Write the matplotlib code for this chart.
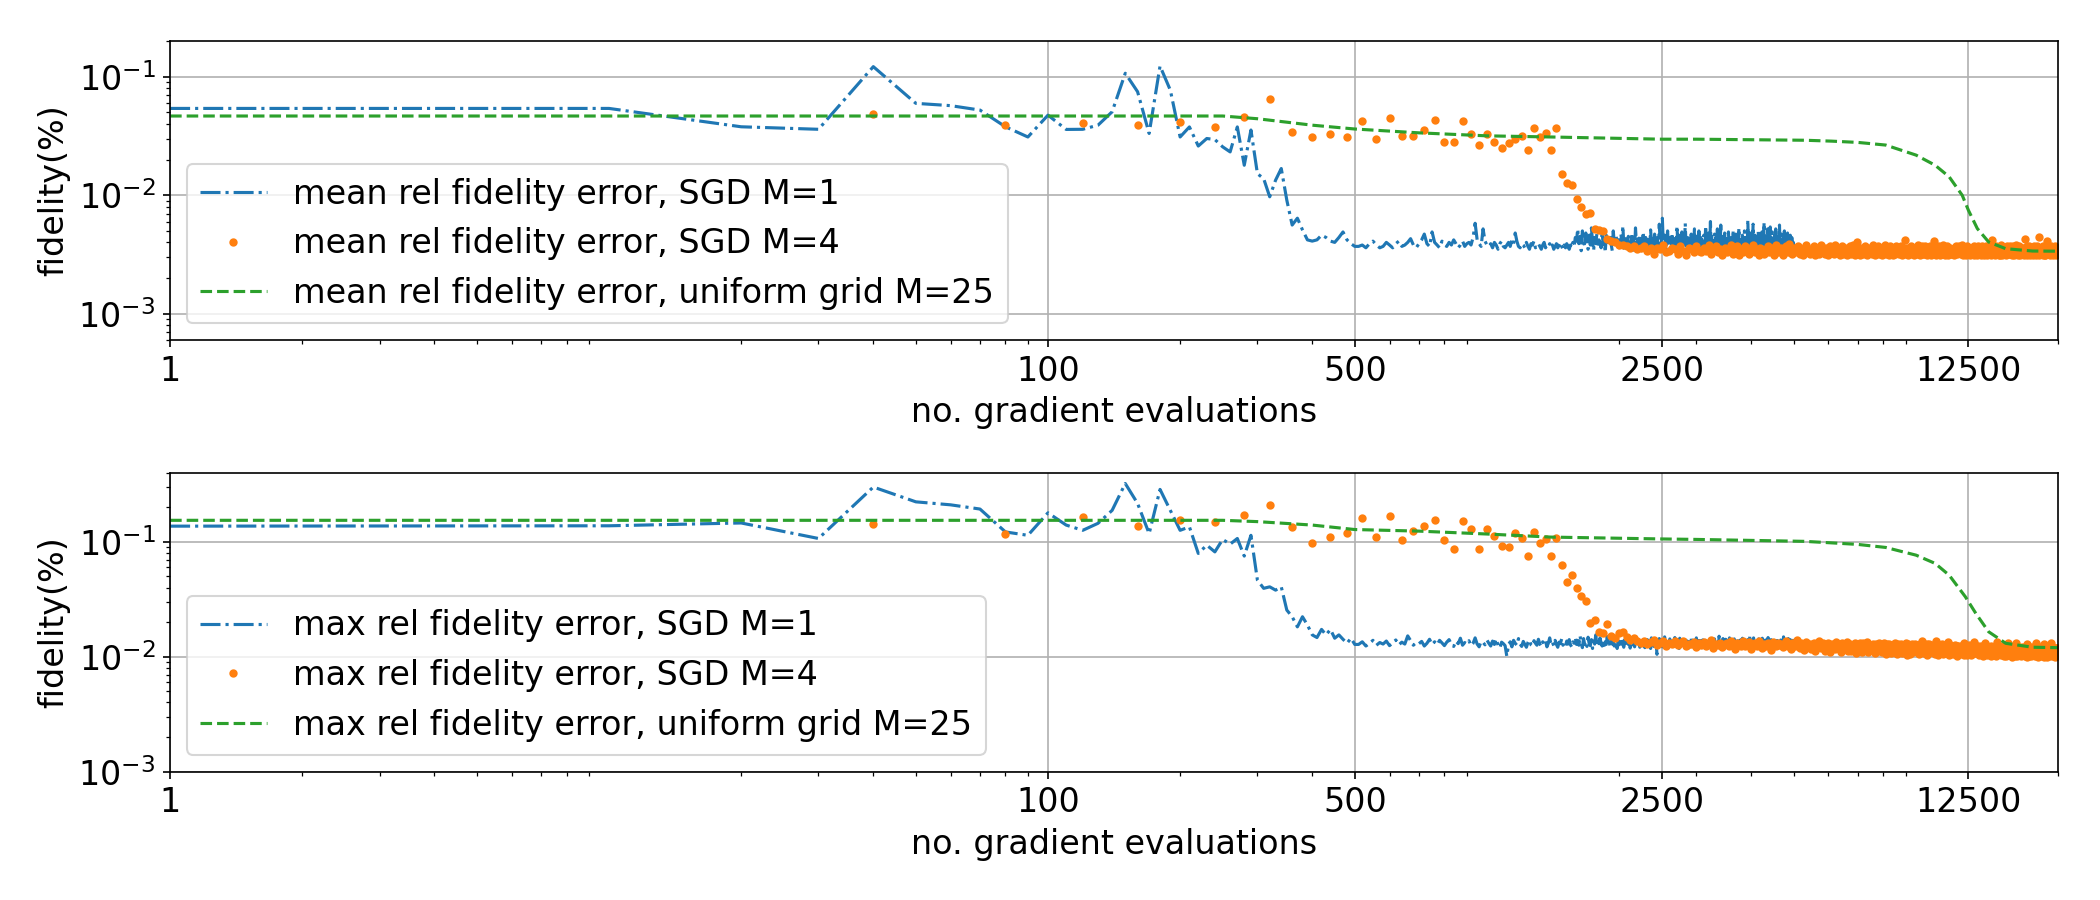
import numpy as np
import matplotlib
matplotlib.use("Agg")
import matplotlib.pyplot as plt
from matplotlib.ticker import NullFormatter

plt.rcParams['font.family'] = ['DejaVu Sans']
plt.rcParams['font.size'] = 16

# ---------------- data ----------------
x_ticks = [1, 100, 500, 2500, 12500]
x_tick_labels = ['1', '100', '500', '2500', '12500']

# SGD M=1 : evaluations 1, 10, 20, ..., 5000
mean_m1_early = [0.054, 0.054, 0.0378, 0.036, 0.1216, 0.0596, 0.057, 0.0523, 0.0378, 0.031,
                 0.0474, 0.0359, 0.036, 0.039, 0.0506, 0.107, 0.0747, 0.0332, 0.123, 0.077,
                 0.031, 0.0377, 0.026, 0.0301, 0.0295, 0.0256, 0.0232, 0.0377, 0.0179, 0.0355,
                 0.0152, 0.0138, 0.0097, 0.0134, 0.0168, 0.0091, 0.0056, 0.0064, 0.0051, 0.0042,
                 0.0041, 0.0042, 0.0046, 0.0044, 0.0041, 0.0040, 0.0044, 0.0049, 0.0042, 0.0039,
                 0.0037]
# x = 510 ... 5000, units of 1e-4
mean_m1_late = [
    37, 38, 36, 39, 41, 38, 36, 37, 40, 38,
    36, 39, 41, 37, 38, 40, 43, 38, 36, 39,
    42, 47, 39, 37, 49, 40, 38, 36, 41, 38,
    37, 40, 38, 42, 39, 36, 38, 41, 37, 39,
    40, 38, 44, 58, 42, 39, 37, 52, 41, 38,
    37, 39, 36, 40, 38, 35, 39, 41, 37, 36,
    38, 40, 37, 42, 39, 48, 41, 37, 36, 39,
    38, 36, 40, 37, 35, 39, 38, 41, 36, 37,
    39, 37, 35, 38, 40, 36, 38, 37, 39, 36,
    38, 35, 37, 39, 36, 38, 40, 37, 35, 38,
    36, 39, 37, 35, 38, 36, 40, 37, 44, 41,
    52, 39, 45, 34, 50, 42, 37, 48, 40, 35,
    46, 38, 53, 41, 34, 44, 39, 47, 37, 42,
    40, 36, 49, 38, 43, 33, 46, 39, 41, 37,
    44, 38, 34, 50, 40, 37, 45, 39, 42, 36,
    41, 47, 38, 55, 39, 34, 43, 40, 37, 45,
    38, 42, 36, 48, 39, 44, 33, 53, 40, 38,
    43, 37, 46, 39, 34, 41, 49, 38, 36, 44,
    39, 45, 37, 42, 38, 51, 40, 34, 43, 38,
    47, 39, 36, 44, 40, 38, 57, 41, 33, 45,
    64, 42, 38, 46, 39, 34, 43, 50, 38, 41,
    37, 44, 39, 48, 34, 42, 38, 45, 40, 37,
    55, 41, 38, 46, 39, 43, 33, 49, 40, 36,
    42, 38, 58, 40, 37, 45, 39, 43, 34, 41,
    38, 47, 40, 36, 44, 39, 52, 38, 42, 33,
    45, 39, 34, 50, 41, 38, 44, 37, 42, 39,
    37, 46, 40, 38, 55, 39, 43, 34, 48, 40,
    41, 38, 60, 39, 45, 37, 43, 40, 33, 47,
    39, 44, 36, 41, 52, 38, 42, 34, 46, 39,
    56, 40, 38, 45, 37, 42, 39, 48, 34, 41,
    38, 43, 40, 37, 49, 39, 44, 33, 42, 38,
    45, 39, 37, 51, 40, 38, 43, 34, 47, 39,
    41, 37, 44, 39, 53, 38, 42, 36, 45, 40,
    38, 46, 39, 42, 34, 50, 40, 36, 44, 39,
    43, 38, 62, 40, 37, 45, 39, 48, 33, 41,
    37, 44, 40, 57, 39, 42, 34, 46, 38, 43,
    39, 45, 37, 41, 50, 38, 43, 34, 47, 40,
    42, 38, 49, 39, 44, 37, 41, 59, 40, 33,
    45, 39, 36, 43, 40, 52, 38, 42, 34, 46,
    39, 54, 41, 38, 44, 37, 49, 40, 43, 34,
    41, 36, 46, 39, 52, 38, 43, 33, 45, 40,
    38, 44, 39, 56, 41, 37, 43, 34, 47, 38,
    42, 37, 45, 40, 38, 50, 39, 44, 34, 41,
    39, 43, 37, 48, 40, 33, 45, 37, 42, 39,
    46, 38, 41, 37, 44, 39, 42, 34, 40, 37]

max_m1_early = [0.137, 0.138, 0.146, 0.107, 0.30, 0.223, 0.21, 0.193, 0.122, 0.114,
                0.179, 0.140, 0.126, 0.145, 0.188, 0.322, 0.216, 0.118, 0.286, 0.188,
                0.126, 0.135, 0.0793, 0.0936, 0.0818, 0.105, 0.0955, 0.107, 0.0752, 0.114,
                0.0465, 0.0394, 0.0406, 0.038, 0.0406, 0.0255, 0.0223, 0.0182, 0.0223, 0.0189,
                0.0155, 0.0147, 0.0173, 0.0155, 0.0173, 0.0145, 0.0155, 0.0142, 0.0131, 0.0145,
                0.0128]
# x = 510 ... 5000, units of 1e-4
max_m1_late = [
    128, 135, 124, 131, 139, 126, 133, 129, 137, 125,
    132, 140, 127, 134, 129, 152, 138, 126, 133, 130,
    136, 124, 131, 142, 128, 135, 127, 139, 132, 125,
    134, 141, 128, 123, 137, 130, 145, 126, 133, 129,
    138, 125, 131, 146, 129, 122, 136, 133, 127, 140,
    131, 124, 137, 128, 143, 126, 119, 134, 130, 125,
    101, 128, 135, 122, 139, 131, 126, 144, 129, 123,
    136, 128, 121, 133, 140, 127, 124, 138, 131, 126,
    142, 129, 123, 135, 128, 137, 122, 131, 146, 127,
    133, 125, 139, 128, 121, 134, 130, 143, 126, 132,
    124, 137, 129, 141, 127, 122, 135, 131, 145, 128,
    139, 126, 152, 131, 120, 144, 128, 136, 123, 148,
    130, 125, 141, 118, 137, 129, 155, 127, 134, 122,
    146, 131, 124, 139, 119, 135, 128, 150, 126, 133,
    121, 142, 129, 136, 124, 147, 130, 118, 138, 127,
    135, 123, 144, 129, 121, 140, 132, 126, 153, 128,
    137, 119, 131, 145, 127, 134, 122, 141, 129, 125,
    148, 130, 121, 138, 126, 143, 128, 135, 120, 132,
    127, 141, 124, 136, 130, 118, 146, 129, 134, 123,
    139, 126, 132, 105, 137, 128, 144, 125, 131, 138,
    122, 135, 129, 149, 127, 133, 120, 140, 130, 126,
    143, 128, 134, 121, 138, 131, 125, 147, 129, 136,
    124, 139, 130, 118, 145, 127, 133, 122, 141, 128,
    135, 126, 150, 129, 123, 137, 131, 119, 142, 130,
    127, 144, 125, 133, 139, 121, 136, 128, 132, 146,
    129, 122, 138, 131, 126, 143, 127, 135, 120, 140,
    133, 128, 145, 124, 137, 130, 118, 141, 129, 134,
    126, 139, 131, 122, 147, 128, 136, 125, 132, 143,
    121, 134, 129, 140, 127, 135, 124, 151, 130, 126,
    138, 123, 133, 129, 144, 120, 137, 131, 126, 142,
    130, 127, 139, 124, 135, 128, 146, 122, 134, 131,
    125, 141, 128, 136, 119, 143, 130, 127, 138, 124,
    137, 129, 133, 126, 148, 131, 122, 140, 128, 135,
    123, 145, 130, 127, 136, 121, 139, 132, 125, 144,
    131, 126, 141, 128, 134, 124, 150, 129, 137, 122,
    140, 127, 133, 119, 146, 130, 125, 138, 131, 128,
    134, 122, 139, 131, 126, 143, 128, 136, 120, 141,
    129, 137, 124, 145, 130, 127, 135, 122, 139, 132,
    126, 140, 131, 128, 137, 123, 147, 129, 134, 125,
    138, 130, 122, 141, 127, 135, 131, 126, 144, 128,
    132, 125, 139, 129, 136, 121, 142, 130, 127, 137,
    124, 143, 128, 135, 131, 126, 140, 122, 138, 129,
    136, 127, 133, 149, 125, 138, 130, 123, 141, 128,
    130, 139, 126, 134, 121, 144, 129, 135, 127, 132,
    141, 128, 135, 124, 137, 130, 126, 139, 131, 127]

# SGD M=4 : evaluations 40, 80, ..., 20000
mean_m4_early = [0.0481, 0.0391, 0.0403, 0.0391, 0.0417, 0.0373, 0.0454, 0.0645, 0.0343, 0.0311,
                 0.0328, 0.0311, 0.0425, 0.0297, 0.0450, 0.0316, 0.0314, 0.0354, 0.0428, 0.0282,
                 0.0281, 0.0425, 0.0326, 0.0265, 0.0326, 0.0282, 0.0251, 0.0275, 0.0297, 0.0314,
                 0.0242, 0.0368, 0.0310, 0.0334, 0.0243, 0.0366, 0.0152, 0.0127, 0.0122, 0.00937,
                 0.00802, 0.00690, 0.00708, 0.00523, 0.00513, 0.00499]
# x = 1880 ... 20000, units of 1e-4
mean_m4_late = [
    43, 41, 40, 38, 38, 37, 36, 37, 35, 36,
    37, 34, 36, 32, 36, 35, 38, 33, 34, 36,
    35, 32, 37, 34, 31, 36, 35, 33, 37, 34,
    33, 36, 34, 38, 32, 35, 37, 33, 35, 31,
    36, 33, 35, 38, 32, 34, 37, 31, 35, 33,
    37, 34, 32, 36, 38, 33, 35, 31, 36, 34,
    32, 35, 37, 33, 36, 34, 31, 38, 33, 35,
    36, 31, 34, 37, 33, 39, 35, 32, 36, 33,
    34, 37, 32, 35, 31, 36, 38, 33, 34, 32,
    35, 33, 37, 31, 34, 36, 32, 38, 33, 35,
    32, 36, 34, 31, 37, 33, 35, 32, 38, 34,
    36, 33, 31, 35, 37, 32, 34, 36, 31, 35,
    33, 37, 32, 34, 38, 31, 35, 40, 33, 36,
    31, 34, 36, 32, 35, 37, 33, 31, 36, 34,
    35, 32, 38, 33, 31, 36, 34, 37, 32, 35,
    34, 36, 31, 35, 33, 38, 32, 34, 36, 31,
    37, 33, 35, 31, 36, 34, 32, 37, 33, 35,
    32, 35, 34, 37, 31, 33, 36, 42, 32, 34,
    36, 31, 35, 33, 37, 32, 34, 36, 31, 35,
    33, 36, 32, 38, 34, 31, 35, 33, 37, 32,
    35, 32, 37, 33, 31, 36, 34, 32, 35, 37,
    31, 34, 36, 32, 41, 33, 37, 31, 34, 36,
    34, 37, 31, 35, 33, 36, 32, 38, 33, 31,
    36, 32, 34, 37, 31, 35, 33, 36, 32, 34,
    32, 35, 33, 31, 36, 34, 37, 32, 35, 33,
    37, 33, 36, 34, 32, 38, 31, 35, 33, 36,
    33, 31, 35, 37, 34, 32, 36, 33, 31, 35,
    35, 36, 32, 34, 37, 31, 34, 36, 33, 32,
    31, 34, 37, 33, 35, 32, 36, 31, 34, 37,
    36, 33, 31, 35, 32, 37, 33, 35, 31, 34,
    34, 37, 33, 32, 36, 31, 35, 42, 33, 36,
    32, 35, 36, 31, 34, 37, 32, 34, 36, 31,
    36, 31, 34, 38, 33, 35, 31, 36, 32, 35,
    33, 36, 32, 35, 31, 34, 37, 33, 35, 32,
    35, 32, 37, 33, 36, 31, 34, 32, 37, 34,
    31, 35, 33, 36, 32, 38, 33, 35, 31, 36,
    37, 33, 35, 31, 34, 32, 36, 34, 33, 35,
    34, 31, 36, 33, 43, 35, 32, 37, 31, 34,
    32, 36, 34, 37, 31, 33, 36, 32, 35, 33,
    36, 33, 31, 35, 37, 32, 34, 36, 31, 35,
    33, 35, 37, 32, 34, 44, 31, 35, 33, 36,
    35, 32, 34, 36, 31, 35, 37, 33, 34, 31,
    31, 36, 33, 35, 41, 32, 34, 36, 32, 35,
    34, 33, 36, 31, 35, 37, 32, 34, 36, 33,
    36, 31, 34, 33, 37, 32, 35, 31, 34, 36,
    33, 35, 32, 34]

max_m4_early = [0.143, 0.118, 0.163, 0.137, 0.155, 0.149, 0.173, 0.211, 0.135, 0.0969,
                0.110, 0.120, 0.162, 0.110, 0.167, 0.1035, 0.124, 0.138, 0.155, 0.1035,
                0.0875, 0.153, 0.130, 0.0869, 0.129, 0.113, 0.0918, 0.0894, 0.120, 0.107,
                0.0752, 0.121, 0.098, 0.105, 0.0752, 0.107, 0.0631, 0.0447, 0.0513, 0.0398,
                0.0339, 0.0307, 0.0195, 0.0208, 0.0165, 0.0160, 0.0192]
# x = 1920 ... 20000, units of 1e-4
max_m4_late = [
    151, 146, 160, 165, 150, 140, 145, 138, 132, 136,
    129, 134, 140, 127, 131, 136, 125, 133, 128, 138,
    126, 132, 137, 124, 130, 128, 135, 122, 131, 127,
    134, 125, 129, 139, 118, 130, 126, 133, 121, 128,
    131, 124, 136, 127, 117, 132, 128, 125, 137, 123,
    129, 134, 116, 127, 131, 124, 138, 126, 119, 130,
    125, 133, 128, 115, 135, 127, 123, 131, 126, 129,
    122, 130, 136, 124, 128, 116, 133, 127, 125, 140,
    128, 118, 131, 126, 114, 134, 129, 124, 130, 117,
    127, 132, 112, 129, 125, 136, 119, 128, 131, 113,
    120, 126, 133, 110, 122, 130, 125, 116, 134, 128,
    124, 129, 109, 131, 126, 118, 128, 135, 112, 127,
    130, 113, 127, 121, 132, 108, 129, 125, 116, 133,
    126, 111, 131, 128, 117, 127, 134, 109, 125, 120,
    115, 128, 124, 107, 130, 122, 112, 133, 127, 118,
    129, 110, 126, 131, 116, 106, 128, 119, 130, 113,
    108, 127, 119, 129, 112, 132, 122, 105, 128, 117,
    126, 114, 130, 107, 127, 120, 111, 131, 118, 104,
    128, 116, 106, 126, 113, 129, 109, 125, 130, 115,
    123, 127, 110, 105, 128, 118, 112, 136, 114, 129,
    107, 125, 116, 128, 103, 123, 130, 111, 126, 109,
    124, 112, 127, 117, 106, 137, 113, 128, 104, 123,
    114, 126, 108, 124, 129, 110, 105, 117, 125, 112,
    127, 109, 123, 134, 104, 126, 115, 108, 124, 111,
    106, 124, 113, 126, 118, 107, 123, 102, 125, 116,
    122, 105, 125, 111, 124, 109, 118, 133, 104, 123,
    112, 123, 104, 115, 122, 126, 108, 121, 103, 124,
    106, 121, 124, 110, 135, 107, 120, 125, 109, 117,
    123, 108, 103, 121, 114, 124, 106, 122, 111, 102,
    119, 122, 105, 132, 110, 120, 124, 103, 121, 108,
    114, 106, 120, 101, 124, 103, 119, 122, 107, 115,
    104, 123, 111, 102, 121, 113, 134, 122, 108, 115,
    122, 105, 121, 103, 110, 120, 107, 123, 101, 119,
    109, 120, 102, 122, 116, 104, 121, 131, 112, 120,
    119, 103, 122, 108, 100, 117, 105, 121, 114, 106,
    110, 121, 102, 133, 119, 101, 120, 107, 122, 105,
    120, 104, 113, 119, 102, 121, 106, 118, 103, 120,
    106, 119, 121, 101, 118, 109, 120, 100, 130, 112,
    118, 102, 117, 120, 106, 101, 116, 121, 104, 118,
    103, 120, 108, 118, 122, 101, 117, 132, 119, 102,
    119, 107, 100, 113, 117, 121, 104, 119, 109, 118,
    101, 118, 110, 120, 103, 117, 129, 100, 118, 108,
    117, 104, 119, 106, 121, 99, 118, 107, 117, 120,
    102, 118, 113, 131, 119, 105, 101, 120, 108, 117,
    118, 106, 120, 103, 100, 119, 107, 118, 102, 116,
    117, 104, 119]

# uniform grid M=25 (read at selected evaluation counts)
grid_x_mean = [1, 250, 300, 400, 500, 700, 1000, 1400, 2500, 3000, 5300, 6100, 7000, 8100,
               9500, 10500, 11300, 12100, 12500, 13100, 13900, 15200, 17500, 20000]
grid_mean = [0.0466, 0.0466, 0.0442, 0.039, 0.0362, 0.0336, 0.0317, 0.0310, 0.0297, 0.0297,
             0.0291, 0.0286, 0.0279, 0.0265, 0.0218, 0.0179, 0.0143, 0.0100, 0.00747, 0.00523,
             0.00403, 0.00354, 0.00338, 0.00337]
grid_x_max = [1, 250, 300, 400, 500, 700, 1000, 1400, 2500, 3000, 5300, 6100, 7000, 8100,
              9500, 10500, 11300, 12300, 13000, 13900, 15200, 17500, 20000]
grid_max = [0.154, 0.154, 0.150, 0.140, 0.128, 0.124, 0.117, 0.110, 0.106, 0.105, 0.101,
            0.098, 0.095, 0.0894, 0.0766, 0.0649, 0.0513, 0.0333, 0.0238, 0.0165, 0.0131,
            0.0121, 0.0120]

labels_mean = ['mean rel fidelity error, SGD M=1', 'mean rel fidelity error, SGD M=4',
               'mean rel fidelity error, uniform grid M=25']
labels_max = ['max rel fidelity error, SGD M=1', 'max rel fidelity error, SGD M=4',
              'max rel fidelity error, uniform grid M=25']


def build(early, late, scale):
    return np.concatenate([np.asarray(early, float), np.asarray(late, float) * scale])


def m1_x(n):
    return np.concatenate([[1], 10 * np.arange(1, n)])


def m4_x(n):
    return 40 * np.arange(1, n + 1)


mean_m1 = build(mean_m1_early, mean_m1_late, 1e-4)
max_m1 = build(max_m1_early, max_m1_late, 1e-4)
mean_m4 = build(mean_m4_early, mean_m4_late, 1e-4)
max_m4 = build(max_m4_early, max_m4_late, 1e-4)

fig = plt.figure(figsize=(14, 6), dpi=150)
ax1 = fig.add_axes([0.081, 0.6222, 0.899, 0.3322])
ax2 = fig.add_axes([0.081, 0.1426, 0.899, 0.3322])

panels = [
    (ax1, mean_m1, mean_m4, grid_x_mean, grid_mean, labels_mean, (6e-4, 0.2)),
    (ax2, max_m1, max_m4, grid_x_max, grid_max, labels_max, (1e-3, 0.4)),
]

for ax, m1, m4, gx, gy, labs, ylim in panels:
    ax.plot(m1_x(len(m1)), m1, '-.', color='C0', lw=1.5, label=labs[0])
    ax.plot(m4_x(len(m4)), m4, '.', color='C1', label=labs[1])
    ax.plot(gx, gy, '--', color='C2', lw=1.5, label=labs[2])
    ax.set_xscale('log')
    ax.set_yscale('log')
    ax.set_xlim(1, 20000)
    ax.set_ylim(*ylim)
    ax.set_xticks(x_ticks)
    ax.set_xticklabels(x_tick_labels)
    ax.xaxis.set_minor_formatter(NullFormatter())
    ax.yaxis.set_minor_formatter(NullFormatter())
    ax.grid(True, which='major')
    ax.set_xlabel('no. gradient evaluations')
    ax.set_ylabel('fidelity(%)')
    ax.legend(loc='lower left', fontsize=16)

fig.savefig('out.png', dpi=150)
